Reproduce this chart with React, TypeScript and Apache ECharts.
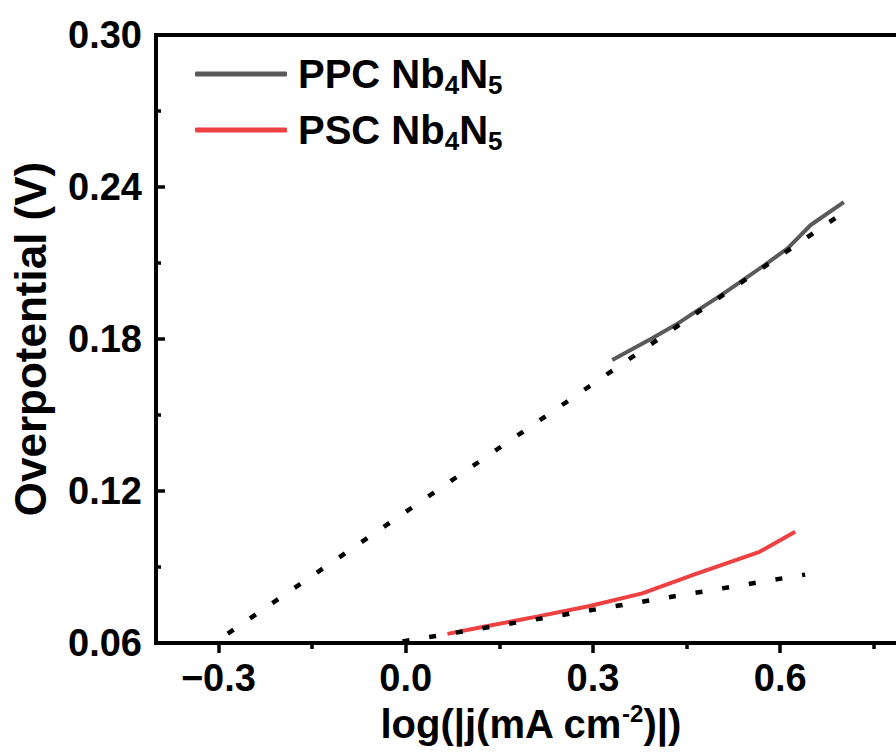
import React, { useEffect, useRef } from 'react';
import * as echarts from 'echarts';

// ---- data ----
const xMajorTicks = [-0.3, 0.0, 0.3, 0.6];
const xMinorTicks = [-0.15, 0.15, 0.45, 0.75];

const ppcName = 'PPC Nb4N5';
const pscName = 'PSC Nb4N5';

const ppcX = [0.331, 0.395, 0.432, 0.469, 0.506, 0.541, 0.575, 0.612, 0.649, 0.702];
const ppcY = [0.1717, 0.1803, 0.1855, 0.1915, 0.1974, 0.2033, 0.2092, 0.2158, 0.225, 0.234];

const pscX = [0.067, 0.125, 0.21, 0.295, 0.379, 0.464, 0.567, 0.624];
const pscY = [0.0636, 0.0664, 0.0704, 0.0746, 0.0796, 0.0872, 0.096, 0.1039];

const ppcFitX = [-0.285, 0.69];
const ppcFitY = [0.0637, 0.228];

const pscFitX = [-0.005, 0.64];
const pscFitY = [0.0606, 0.087];

const FONT = 'Liberation Sans';

const zip = (xs: number[], ys: number[]) => xs.map((x, i) => [x, ys[i]]);

export default function App() {
  const ref = useRef<HTMLDivElement>(null);
  useEffect(() => {
    if (!ref.current) return;
    const chart = echarts.init(ref.current, undefined, { renderer: 'svg' });
    const fitStyle = { width: 4.5, color: '#000', type: [7, 20] as any, cap: 'butt' as any };
    chart.setOption({
      animation: false,
      backgroundColor: '#fff',
      textStyle: { fontFamily: FONT },
      grid: {
        left: 150,
        top: 35,
        right: 15,
        bottom: 113,
        show: true,
        borderColor: '#000',
        borderWidth: 4,
        backgroundColor: 'transparent',
      },
      legend: {
        orient: 'vertical',
        left: 190,
        top: 49,
        itemGap: 12,
        itemWidth: 92,
        itemHeight: 5,
        icon: 'roundRect',
        selectedMode: false,
        data: [ppcName, pscName],
        formatter: (n: string) =>
          n === ppcName
            ? '{g|}{n|PPC Nb}{s|4}{n|N}{s|5}'
            : '{g|}{n|PSC Nb}{s|4}{n|N}{s|5}',
        textStyle: {
          rich: {
            g: { width: 6 },
            n: { fontSize: 40, fontWeight: 'bold', fontFamily: FONT, color: '#000', lineHeight: 48 },
            s: { fontSize: 26, fontWeight: 'bold', fontFamily: FONT, color: '#000', lineHeight: 26, verticalAlign: 'bottom' },
          },
        },
      },
      xAxis: [
        {
          type: 'value',
          min: -0.4,
          max: 0.8,
          name: '{n|log(|j(mA cm}{sup|-2}{n|)|)}',
          nameLocation: 'middle',
          nameGap: 54,
          nameTextStyle: {
            rich: {
              n: { fontSize: 40, fontWeight: 'bold', fontFamily: FONT, color: '#000', lineHeight: 44 },
              sup: { fontSize: 24, fontWeight: 'bold', fontFamily: FONT, color: '#000', lineHeight: 24, verticalAlign: 'top' },
            },
          },
          axisLine: { show: true, onZero: false, lineStyle: { color: '#000', width: 4 } },
          axisTick: { show: true, inside: false, length: 10, customValues: xMajorTicks, lineStyle: { color: '#000', width: 3.5 } },
          axisLabel: {
            show: true,
            customValues: xMajorTicks,
            margin: 16,
            fontSize: 38,
            fontWeight: 'bold',
            fontFamily: FONT,
            color: '#000',
            formatter: (v: number) => (v < 0 ? '\u2212' + Math.abs(v).toFixed(1) : v.toFixed(1)),
          },
          splitLine: { show: false },
        },
        {
          type: 'value',
          min: -0.4,
          max: 0.8,
          position: 'bottom',
          axisLine: { show: false },
          axisTick: { show: true, inside: false, length: 6, customValues: xMinorTicks, lineStyle: { color: '#000', width: 3.5 } },
          axisLabel: { show: false },
          splitLine: { show: false },
        },
      ],
      yAxis: {
        type: 'value',
        min: 0.06,
        max: 0.3,
        interval: 0.06,
        name: 'Overpotential (V)',
        nameLocation: 'middle',
        nameGap: 104,
        nameTextStyle: { fontSize: 44, fontWeight: 'bold', fontFamily: FONT, color: '#000' },
        axisLine: { show: true, onZero: false, lineStyle: { color: '#000', width: 4 } },
        axisTick: { show: true, inside: true, length: 9, lineStyle: { color: '#000', width: 3.5 } },
        minorTick: { show: true, splitNumber: 2, length: 5, lineStyle: { color: '#000', width: 3.5 } },
        axisLabel: {
          margin: 14,
          fontSize: 38,
          fontWeight: 'bold',
          fontFamily: FONT,
          color: '#000',
          formatter: (v: number) => v.toFixed(2),
        },
        splitLine: { show: false },
      },
      series: [
        {
          type: 'line',
          name: ppcName,
          color: '#5a5a5a',
          data: zip(ppcX, ppcY),
          showSymbol: false,
          symbol: 'none',
          lineStyle: { width: 4, color: '#5a5a5a' },
          z: 2,
        },
        {
          type: 'line',
          name: pscName,
          color: '#ef4141',
          data: zip(pscX, pscY),
          showSymbol: false,
          symbol: 'none',
          lineStyle: { width: 4, color: '#ef4141' },
          z: 2,
        },
        {
          type: 'line',
          name: 'PPC fit',
          data: zip(ppcFitX, ppcFitY),
          showSymbol: false,
          symbol: 'none',
          lineStyle: fitStyle,
          z: 3,
        },
        {
          type: 'line',
          name: 'PSC fit',
          data: zip(pscFitX, pscFitY),
          showSymbol: false,
          symbol: 'none',
          lineStyle: fitStyle,
          z: 3,
        },
      ],
    });
    return () => chart.dispose();
  }, []);
  return (
    <div
      style={{ position: 'fixed', left: 0, top: 0, width: 896, height: 756, background: '#fff', overflow: 'hidden' }}
    >
      <div ref={ref} style={{ width: 920, height: 756 }} />
    </div>
  );
}
